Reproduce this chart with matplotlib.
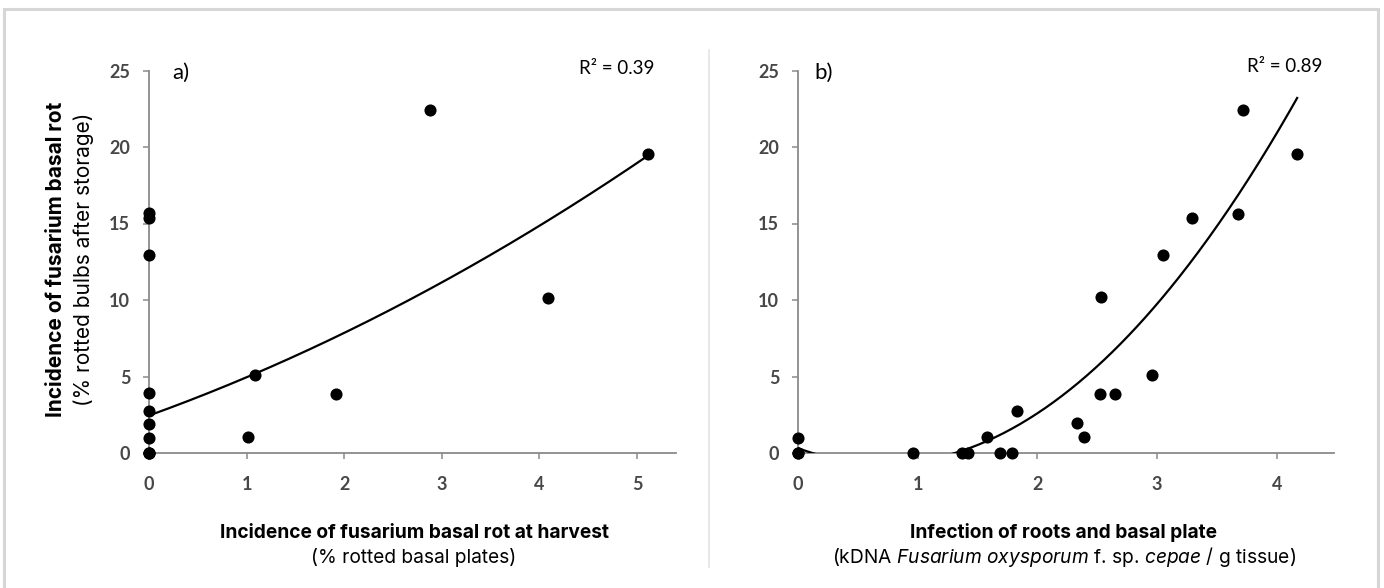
import matplotlib
matplotlib.use("Agg")
import matplotlib.pyplot as plt
import numpy as np
from matplotlib.patches import Rectangle
from matplotlib.lines import Line2D

# ---------------- data ----------------
# panel a: incidence at harvest (x) vs incidence after storage (y)
a_x = [0, 0, 0, 0, 0, 0, 0, 0, 0, 0, 1.01, 1.09, 1.92, 2.88, 4.09, 5.11]
a_y = [0, 0, 0.96, 1.91, 2.72, 3.89, 12.95, 15.37, 15.70, 0, 1.02, 5.13, 3.85, 22.45, 10.15, 19.53]
a_trend = [2.45, 2.3, 0.2]          # y = c0 + c1*x + c2*x^2
a_r2 = "R\u00b2 = 0.39"
a_xticks = [0, 1, 2, 3, 4, 5]

# panel b: kDNA in roots/basal plate (x) vs incidence after storage (y)
b_x = [0, 0, 0, 0.96, 1.37, 1.42, 1.58, 1.69, 1.79, 1.83, 2.33, 2.39, 2.52,
       2.65, 2.53, 2.96, 3.05, 3.29, 3.68, 3.72, 4.17]
b_y = [0, 0, 0.95, 0, 0, 0, 1.03, 0, 0, 2.76, 1.94, 1.03, 3.86,
       3.84, 10.17, 5.10, 12.94, 15.36, 15.62, 22.45, 19.52]
b_trend = [0.315, -2.868, 2.004]   # y = c0 + c1*x + c2*x^2
b_r2 = "R\u00b2 = 0.89"
b_xticks = [0, 1, 2, 3, 4]

yticks = [0, 5, 10, 15, 20, 25]

# ---------------- figure ----------------
W, H = 1384, 588
LABEL_FONT = ['Inter', 'Lato', 'DejaVu Sans']
plt.rcParams['font.family'] = ['Lato', 'DejaVu Sans']
plt.rcParams['mathtext.fontset'] = 'custom'
plt.rcParams['mathtext.rm'] = 'Inter'
plt.rcParams['mathtext.it'] = 'Inter:italic'
fig = plt.figure(figsize=(W / 100, H / 100), dpi=100)
fig.patch.set_facecolor('white')


def fx(x):
    return x / W


def fy(y):
    return 1 - y / H


y0_px, y25_px = 453, 70.5
axa = fig.add_axes([fx(149), fy(y0_px), 5.4 * 97.6 / W, (y0_px - y25_px) / H])
axb = fig.add_axes([fx(798), fy(y0_px), 4.48 * 119.7 / W, (y0_px - y25_px) / H])

spine_col = '#8a8a8a'
tick_col = '#474747'

for ax, xs, ys, coef, xmax, xt in [
        (axa, a_x, a_y, a_trend, 5.4, a_xticks),
        (axb, b_x, b_y, b_trend, 4.48, b_xticks)]:
    ax.set_xlim(0, xmax)
    ax.set_ylim(0, 25)
    ax.set_xticks(xt)
    ax.set_yticks(yticks)
    for s in ['top', 'right']:
        ax.spines[s].set_visible(False)
    for s in ['left', 'bottom']:
        ax.spines[s].set_color(spine_col)
        ax.spines[s].set_linewidth(1.3)
    ax.tick_params(axis='both', direction='out', length=4, width=1.1,
                   color=spine_col, labelcolor=tick_col, labelsize=13)
    ax.tick_params(axis='y', pad=9.5)
    ax.tick_params(axis='x', pad=12.5)
    for lab in ax.get_xticklabels() + ax.get_yticklabels():
        lab.set_fontweight('bold')
    xx = np.linspace(min(xs), max(xs), 300)
    yy = coef[0] + coef[1] * xx + coef[2] * xx ** 2
    ax.plot(xx, yy, color='black', lw=1.6, zorder=3)
    ax.scatter(xs, ys, s=76, color='black', zorder=4, clip_on=False, linewidths=0)
    ax.set_facecolor('none')

# panel letters and R^2
fig.text(fx(172), fy(73), 'a)', fontsize=16, ha='left', va='center')
fig.text(fx(814), fy(73), 'b)', fontsize=16, ha='left', va='center')
fig.text(fx(654), fy(68), a_r2, fontsize=13.5, ha='right', va='center')
fig.text(fx(1322), fy(67), b_r2, fontsize=13.5, ha='right', va='center')

TS = 13.8
YS = 15
# y label (panel a)
fig.text(fx(56), fy(259), 'Incidence of fusarium basal rot', rotation=90,
         ha='center', va='center', fontsize=YS, fontweight='bold', family=LABEL_FONT)
fig.text(fx(84), fy(259), '(% rotted bulbs after storage)', rotation=90,
         ha='center', va='center', fontsize=YS, family=LABEL_FONT)

# x labels
fig.text(fx(415), fy(538), 'Incidence of fusarium basal rot at harvest',
         ha='center', va='baseline', fontsize=TS, fontweight='bold', family=LABEL_FONT)
fig.text(fx(414), fy(563), '(% rotted basal plates)',
         ha='center', va='baseline', fontsize=TS, family=LABEL_FONT)
fig.text(fx(1064), fy(538), 'Infection of roots and basal plate',
         ha='center', va='baseline', fontsize=TS, fontweight='bold', family=LABEL_FONT)
fig.text(fx(1064), fy(563),
         r'(kDNA $\mathit{Fusarium\ oxysporum}$ f. sp. $\mathit{cepae}$ / g tissue)',
         ha='center', va='baseline', fontsize=TS, family=LABEL_FONT)

# frame and separator
fig.patches.append(Rectangle((fx(4), -0.05), fx(1378) - fx(4), fy(8.5) + 0.05,
                             transform=fig.transFigure, fill=False,
                             edgecolor='#d6d6d6', lw=2.2))
fig.lines.append(Line2D([fx(709), fx(709)], [fy(50), fy(567)],
                        transform=fig.transFigure, color='#e3e3e3', lw=1.2))

fig.savefig('out.png', dpi=100, facecolor='white')
